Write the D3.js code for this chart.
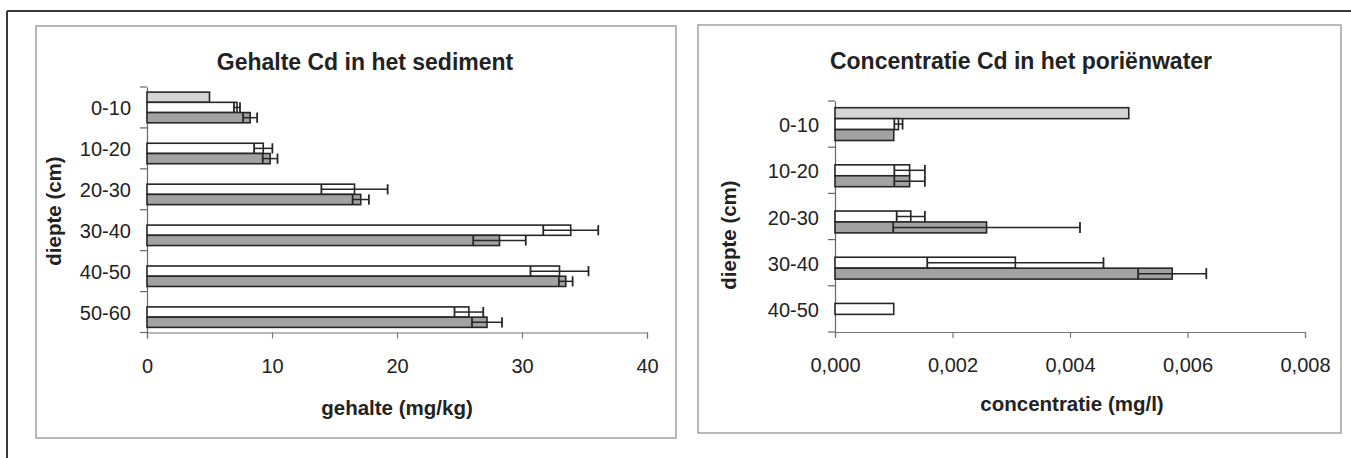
<!DOCTYPE html>
<html>
<head>
<meta charset="utf-8">
<script src="https://cdn.jsdelivr.net/npm/d3@7"></script>
<style>
  html, body { margin: 0; padding: 0; background: #fff; }
  svg { display: block; font-family: "Liberation Sans", Arial, sans-serif; }
</style>
</head>
<body>
<svg id="chart" width="1351" height="458"></svg>
<script>
// ---- Sediment: Cd content per depth layer (mg/kg) ----
const sedCategories = ["0-10", "10-20", "20-30", "30-40", "40-50", "50-60"];
const sedLight      = [5.0, null, null, null, null, null];
const sedWhite      = [7.2, 9.3, 16.6, 33.9, 33.0, 25.75];
const sedWhiteErr   = [0.24, 0.73, 2.65, 2.2, 2.32, 1.15];
const sedGrey       = [8.25, 9.85, 17.1, 28.2, 33.5, 27.2];
const sedGreyErr    = [0.56, 0.59, 0.65, 2.1, 0.55, 1.2];
const sedTicks      = [0, 10, 20, 30, 40];

// ---- Pore water: Cd concentration per depth layer (mg/l) ----
const pwCategories  = ["0-10", "10-20", "20-30", "30-40", "40-50"];
const pwLight       = [0.005, null, null, null, null];
const pwWhite       = [0.00108, 0.00127, 0.00129, 0.00307, 0.001];
const pwWhiteErr    = [0.00007, 0.00026, 0.00024, 0.0015, null];
const pwGrey        = [0.001, 0.00127, 0.00258, 0.00574, null];
const pwGreyErr     = [null, 0.00026, 0.00159, 0.00058, null];
const pwTicks       = [0, 0.002, 0.004, 0.006, 0.008];

const seriesKeys = ["light", "white", "grey"];
const fills = { light: "#d5d5d5", white: "#ffffff", grey: "#a2a2a2" };

const nl = d3.formatLocale({ decimal: ",", thousands: ".", grouping: [3], currency: ["€", ""] });

const svg = d3.select("#chart");

// outer page frame (top and left rule)
svg.append("line").attr("x1", 7).attr("x2", 1351).attr("y1", 11).attr("y2", 11)
  .attr("stroke", "#3a3a3a").attr("stroke-width", 2);
svg.append("line").attr("x1", 7).attr("x2", 7).attr("y1", 11).attr("y2", 458)
  .attr("stroke", "#3a3a3a").attr("stroke-width", 2);

function buildRows(cats, light, white, whiteErr, grey, greyErr) {
  return cats.map((c, i) => ({
    cat: c,
    values: [
      { key: "light", v: light[i], e: null },
      { key: "white", v: white[i], e: whiteErr[i] },
      { key: "grey",  v: grey[i],  e: greyErr[i] }
    ]
  }));
}

const panels = [
  {
    box: [36, 26, 676, 438],
    plot: { x0: 147, x1: 647, y0: 87, y1: 332.5 },
    pad: 0.125,
    title: "Gehalte Cd in het sediment", titleX: 365, titleY: 69.5,
    xTitle: "gehalte (mg/kg)", xTitleX: 397, xTitleY: 415,
    yTitle: "diepte (cm)", yTitleX: 61, yTitleY: 211,
    rows: buildRows(sedCategories, sedLight, sedWhite, sedWhiteErr, sedGrey, sedGreyErr),
    cats: sedCategories, domain: [0, 40], ticks: sedTicks, fmt: d3.format("d")
  },
  {
    box: [698, 25, 1341, 433],
    plot: { x0: 835, x1: 1305, y0: 101, y1: 332 },
    pad: 0.145,
    title: "Concentratie Cd in het poriënwater", titleX: 1021, titleY: 69,
    xTitle: "concentratie (mg/l)", xTitleX: 1072, xTitleY: 411,
    yTitle: "diepte (cm)", yTitleX: 736, yTitleY: 235,
    rows: buildRows(pwCategories, pwLight, pwWhite, pwWhiteErr, pwGrey, pwGreyErr),
    cats: pwCategories, domain: [0, 0.008], ticks: pwTicks, fmt: nl.format(".3f")
  }
];

panels.forEach(p => {
  const g = svg.append("g");
  const [bx0, by0, bx1, by1] = p.box;
  g.append("rect").attr("x", bx0).attr("y", by0).attr("width", bx1 - bx0).attr("height", by1 - by0)
    .attr("fill", "#fff").attr("stroke", "#8a8a8a").attr("stroke-width", 1.2);

  g.append("text").attr("x", p.titleX).attr("y", p.titleY).attr("text-anchor", "middle")
    .attr("font-size", 23).attr("font-weight", "bold").attr("fill", "#222").text(p.title);

  const x = d3.scaleLinear().domain(p.domain).range([p.plot.x0, p.plot.x1]);
  const y = d3.scaleBand().domain(p.cats).range([p.plot.y0, p.plot.y1]).padding(0);
  const bw = y.bandwidth();
  const ys = d3.scaleBand().domain(seriesKeys).range([bw * p.pad, bw * (1 - p.pad)]).padding(0);
  const bh = ys.bandwidth();

  // x axis
  const xAxis = d3.axisBottom(x).tickValues(p.ticks).tickFormat(p.fmt).tickSize(6).tickPadding(20);
  const xg = g.append("g").attr("transform", `translate(0,${p.plot.y1})`).call(xAxis);
  xg.select(".domain").attr("stroke", "#777").attr("stroke-width", 1.2);
  xg.selectAll(".tick line").attr("stroke", "#777").attr("stroke-width", 1.2);
  xg.selectAll(".tick text").attr("font-size", 20).attr("fill", "#222")
    .attr("font-family", "'Liberation Sans', Arial, sans-serif");

  // y axis: labels centred on each depth band, ticks on band boundaries
  const yAxis = d3.axisLeft(y).tickSize(0).tickPadding(16);
  const yg = g.append("g").attr("transform", `translate(${p.plot.x0},0)`).call(yAxis);
  yg.select(".domain").attr("stroke", "#666").attr("stroke-width", 1.2);
  yg.selectAll(".tick text").attr("font-size", 20).attr("fill", "#222").attr("dy", "0.4em")
    .attr("font-family", "'Liberation Sans', Arial, sans-serif");
  const bounds = p.cats.map(c => y(c)).concat([p.plot.y1]);
  g.selectAll(null).data(bounds).join("line")
    .attr("x1", p.plot.x0 - 7).attr("x2", p.plot.x0)
    .attr("y1", d => d).attr("y2", d => d)
    .attr("stroke", "#666").attr("stroke-width", 1.2);

  // axis titles
  g.append("text").attr("x", p.xTitleX).attr("y", p.xTitleY).attr("text-anchor", "middle")
    .attr("font-size", 20.5).attr("font-weight", "bold").attr("fill", "#222").text(p.xTitle);
  g.append("text").attr("transform", `translate(${p.yTitleX},${p.yTitleY}) rotate(-90)`)
    .attr("text-anchor", "middle").attr("font-size", 20.5).attr("font-weight", "bold")
    .attr("fill", "#222").text(p.yTitle);

  // bars
  const groups = g.selectAll(null).data(p.rows).join("g")
    .attr("transform", d => `translate(0,${y(d.cat)})`);
  const items = groups.selectAll(null)
    .data(d => d.values.filter(v => v.v != null)).join("g");
  items.append("rect")
    .attr("x", x(0)).attr("y", d => ys(d.key))
    .attr("width", d => x(d.v) - x(0)).attr("height", bh)
    .attr("fill", d => fills[d.key]).attr("stroke", "#262626").attr("stroke-width", 1.6);

  // error bars (mean ± deviation)
  const errs = items.filter(d => d.e != null);
  errs.append("line")
    .attr("x1", d => x(d.v - d.e)).attr("x2", d => x(d.v + d.e))
    .attr("y1", d => ys(d.key) + bh / 2).attr("y2", d => ys(d.key) + bh / 2)
    .attr("stroke", "#262626").attr("stroke-width", 1.5);
  ["lo", "hi"].forEach(side => {
    errs.append("line")
      .attr("x1", d => x(side === "lo" ? d.v - d.e : d.v + d.e))
      .attr("x2", d => x(side === "lo" ? d.v - d.e : d.v + d.e))
      .attr("y1", d => ys(d.key) + bh / 2 - bh / 2)
      .attr("y2", d => ys(d.key) + bh / 2 + bh / 2)
      .attr("stroke", "#262626").attr("stroke-width", 1.8);
  });
});
</script>
</body>
</html>
